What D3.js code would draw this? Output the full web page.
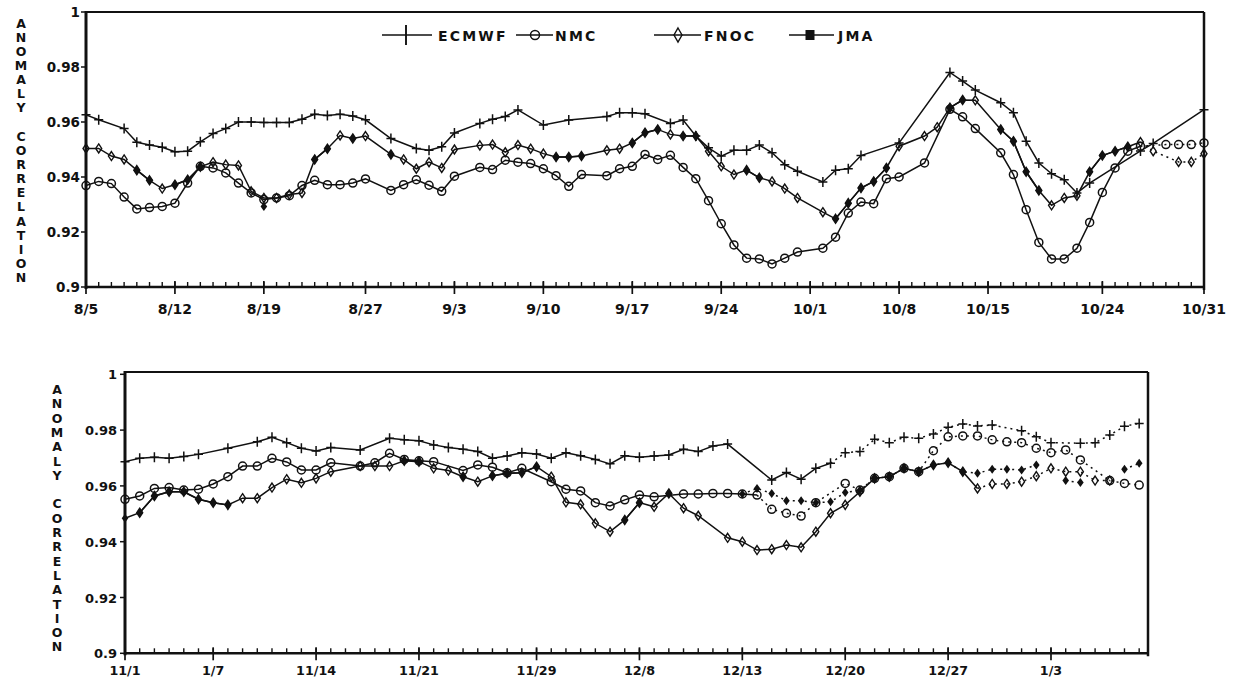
<!doctype html>
<html lang="en">
<head>
  <meta charset="UTF-8">
  <title>Anomaly correlation</title>
  <style>
    body { margin: 0; background: #fff; }
    #app { position: relative; width: 1233px; height: 679px; }
    text { font-family: 'DejaVu Sans', sans-serif; font-weight: bold; fill: #111; }
  </style>
</head>
<body>
<div id="app"></div>
<script src="https://cdn.jsdelivr.net/npm/d3@7/dist/d3.min.js"></script>
<script>
  var width = 1233;
  var height = 679;

  var seriesNames = ['ECMWF', 'NMC', 'FNOC', 'JMA'];
  var axisTitle = 'ANOMALY CORRELATION';
  var yTicks = [0.9, 0.92, 0.94, 0.96, 0.98, 1];
  var yTickLabels = ['0.9', '0.92', '0.94', '0.96', '0.98', '1'];

  // top panel, one value per day from 8/5 (null = no point that day)
  var topTickDays = [0, 7, 14, 22, 29, 36, 43, 50, 57, 64, 71, 80, 88];
  var topTickLabels = ['8/5', '8/12', '8/19', '8/27', '9/3', '9/10', '9/17', '9/24', '10/1', '10/8', '10/15', '10/24', '10/31'];

  var ecmwfTop = [
    .9626, .9608, null, .9576, .9526, .9516, .9508, .9492, .9494, .9528,
    .9558, .9576, .9600, .9600, .9598, .9598, .9598, .9610, .9628, .9624,
    .9628, .9622, .9608, null, .9540, null, .9504, .9497, .9510, .9560,
    null, .9595, .9610, .9620, .9644, null, .9589, null, .9607, null,
    null, .9620, .9634, .9634, .9630, null, .9595, .9607, .9549, .9506,
    .9476, .9497, .9497, .9516, .9488, .9445, .9421, null, .9382, .9425,
    .9430, .9478, null, null, .9524, null, null, null, .9780, .9749,
    .9716, null, .9670, .9634, .9530, .9451, .9412, .9390, .9342, .9378,
    null, null, null, .9495, .9522, null, null, null, .9645];
  var nmcTop = [
    .9369, .9384, .9376, .9327, .9284, .9289, .9293, .9305, .9378, .9439,
    .9433, .9415, .9378, .9342, .9318, .9324, .9332, .9369, .9388, .9372,
    .9372, .9378, .9393, null, .9351, .9372, .9390, .9370, .9348, .9403,
    null, .9435, .9427, .9461, .9454, .9449, .9430, .9405, .9366, .9409,
    null, .9405, .9430, .9439, .9482, .9464, .9479, .9435, .9394, .9314,
    .9230, .9153, .9105, .9102, .9084, .9105, .9127, null, .9141, .9181,
    .9269, .9309, .9303, .9394, .9400, null, .9451, null, .9646, .9619,
    .9576, null, .9488, .9409, .9281, .9162, .9102, .9102, .9141, .9235,
    .9344, .9433, .9494, .9512, null, .9518, .9518, .9518, .9524];
  var fnocTop = [
    .9504, .9504, .9476, .9464, .9425, .9388, .9358, .9372, .9390, .9437,
    .9454, .9445, .9442, .9348, .9324, .9324, .9336, .9342, .9464, .9503,
    .9551, .9540, .9549, null, .9482, .9464, .9430, .9454, .9433, .9500,
    null, .9515, .9518, .9490, .9516, .9503, .9485, .9473, .9473, .9476,
    null, .9497, .9503, .9524, .9561, .9573, .9555, .9549, .9549, .9494,
    .9439, .9409, .9425, .9397, .9384, .9358, .9324, null, .9272, .9248,
    .9305, .9360, .9384, .9433, .9512, null, .9549, .9581, .9652, .9680,
    .9679, null, .9573, .9530, .9419, .9351, .9297, .9324, .9332, .9419,
    .9478, .9494, .9510, .9527, .9494, null, .9455, .9455, .9485];
  // JMA mostly lies on the FNOC line; only the days where its mark shows
  var jmaTop = [
    null, null, null, null, .9425, .9388, null, .9372, .9390, .9437,
    null, null, null, null, .9293, null, null, null, .9464, .9503,
    null, .9540, null, null, .9482, null, null, null, null, null,
    null, null, null, null, null, null, null, .9473, .9473, .9476,
    null, null, null, .9524, .9561, .9573, null, .9549, .9549, null,
    null, null, .9425, .9397, null, null, null, null, null, .9248,
    .9305, .9360, .9384, .9433, null, null, null, null, .9652, .9680,
    null, null, .9573, .9530, .9419, .9351, null, null, null, .9419,
    .9478, .9494, .9510, null, null, null, null, null, null];

  // bottom panel, one value per day from 11/1
  var botTickDays = [0, 6, 13, 20, 28, 35, 42, 49, 56, 63];
  var botTickLabels = ['11/1', '1/7', '11/14', '11/21', '11/29', '12/8', '12/13', '12/20', '12/27', '1/3'];

  var ecmwfBot = [
    .9687, .9699, .9703, .9699, .9705, .9713, null, .9735, null, .9758,
    .9774, .9755, .9735, .9725, .9738, null, .9729, null, .9771, .9765,
    .9762, .9747, .9738, .9731, .9723, .9699, .9707, .9719, .9714, .9699,
    .9719, .9708, .9695, .9679, .9708, .9703, .9707, .9711, .9731, .9723,
    .9743, .9750, null, null, .9621, .9648, .9624, .9663, .9681, .9719,
    .9723, .9767, .9755, .9774, .9771, .9786, .9810, .9822, .9815, .9818,
    null, .9798, .9776, .9755, null, .9753, .9755, .9782, .9814, .9824];
  var nmcBot = [
    .9552, .9564, .9591, .9594, .9585, .9588, .9607, .9633, .9671, .9671,
    .9699, .9686, .9657, .9657, .9683, null, .9671, .9683, .9717, .9695,
    .9690, .9687, null, .9655, .9675, .9667, .9647, .9663, null, .9615,
    .9588, .9582, .9540, .9528, .9550, .9567, .9561, null, .9571, .9571,
    .9573, .9573, .9571, .9567, .9516, .9502, .9492, .9540, null, .9609,
    .9585, .9627, .9633, .9663, .9651, .9726, .9776, .9779, .9779, .9765,
    .9758, .9755, .9735, .9719, .9729, .9693, null, .9619, .9609, .9603];
  var fnocBot = [
    null, .9504, .9564, .9579, .9579, .9552, .9540, .9532, .9556, .9556,
    .9594, .9624, .9611, .9627, .9651, null, .9671, .9671, .9671, .9690,
    .9687, .9663, .9655, .9633, .9615, .9636, .9645, .9647, .9669, .9633,
    .9541, .9534, .9466, .9436, .9478, .9540, .9525, .9573, .9520, .9493,
    null, .9414, .9400, .9370, .9373, .9388, .9380, .9436, .9502, .9532,
    .9579, .9627, .9633, .9663, .9651, .9675, .9683, .9651, .9591, .9607,
    .9607, .9615, .9635, .9663, .9651, .9651, .9619, .9619, null, null];
  var jmaBot = [
    .9484, .9504, .9564, .9579, .9579, .9552, .9540, .9532, null, null,
    null, null, null, null, null, null, null, null, null, .9690,
    .9690, null, null, .9633, null, .9636, .9645, .9647, .9669, null,
    null, null, null, null, .9478, .9540, null, .9573, null, null,
    null, null, .9571, .9591, .9573, .9547, .9547, .9540, .9543, .9576,
    .9585, .9627, .9633, .9663, .9651, .9675, .9683, .9651, .9645, .9660,
    .9660, .9657, .9675, null, .9619, .9612, null, null, .9660, .9681];

  var ink = '#111';

  var panels = [
    {
      left: 86, right: 1204, top: 12, bottom: 287, lastDay: 88,
      tickDays: topTickDays, tickLabels: topTickLabels,
      labelY: 314, xFont: 14, yFont: 13.5, yLabelX: 80, titleX: 21, titleY: 27.5, titleStep: 14.15,
      series: [ecmwfTop, nmcTop, fnocTop, jmaTop],
      dotFrom: [null, 83, 83, null]
    },
    {
      left: 125, right: 1148, top: 374.3, bottom: 653.3, lastDay: 69.6, frameTop: 372,
      tickDays: botTickDays, tickLabels: botTickLabels,
      labelY: 675, xFont: 12.7, yFont: 13, yLabelX: 117, titleX: 57, titleY: 394, titleStep: 14.3,
      series: [ecmwfBot, nmcBot, fnocBot, jmaBot],
      dotFrom: [48, 43, 58, 42]
    }
  ];

  var svg = d3.select('#app')
              .append('svg')
              .attr('width', width)
              .attr('height', height);

  panels.forEach(drawPanel);
  drawLegend();

  function drawPanel(p) {
    var g = svg.append('g');
    var x = d3.scaleLinear().domain([0, p.lastDay]).range([p.left, p.right]);
    var y = d3.scaleLinear().domain([0.9, 1]).range([p.bottom, p.top]);
    var frameTop = p.frameTop || p.top;

    // frame
    g.append('line').attr('x1', p.left).attr('x2', p.right).attr('y1', frameTop).attr('y2', frameTop)
      .attr('stroke', ink).attr('stroke-width', 2);
    g.append('line').attr('x1', p.right).attr('x2', p.right).attr('y1', frameTop).attr('y2', p.bottom + 3)
      .attr('stroke', ink).attr('stroke-width', 2.5);
    g.append('line').attr('x1', p.left).attr('x2', p.right).attr('y1', p.bottom).attr('y2', p.bottom)
      .attr('stroke', ink).attr('stroke-width', 2.5);
    g.append('line').attr('x1', p.left).attr('x2', p.left).attr('y1', frameTop - 1).attr('y2', p.bottom + 2)
      .attr('stroke', ink).attr('stroke-width', 3);

    // x ticks, one per day, longer at labelled days
    var days = d3.range(0, Math.floor(p.lastDay) + 1);
    g.selectAll('line.minor')
      .data(days)
      .enter()
      .append('line')
      .attr('class', 'minor')
      .attr('x1', d => x(d)).attr('x2', d => x(d))
      .attr('y1', p.bottom - 5).attr('y2', p.bottom)
      .attr('stroke', ink).attr('stroke-width', 1.4);
    g.selectAll('line.major')
      .data(p.tickDays)
      .enter()
      .append('line')
      .attr('class', 'major')
      .attr('x1', d => x(d)).attr('x2', d => x(d))
      .attr('y1', p.bottom - 6).attr('y2', p.bottom + 7)
      .attr('stroke', ink).attr('stroke-width', 1.7);
    g.selectAll('text.xlab')
      .data(p.tickDays)
      .enter()
      .append('text')
      .attr('class', 'xlab')
      .attr('x', d => x(d))
      .attr('y', p.labelY)
      .attr('text-anchor', 'middle')
      .style('font-size', p.xFont + 'px')
      .text((d, i) => p.tickLabels[i]);

    // y ticks
    g.selectAll('line.ytick')
      .data(yTicks)
      .enter()
      .append('line')
      .attr('class', 'ytick')
      .attr('x1', p.left - 5).attr('x2', p.left)
      .attr('y1', d => y(d)).attr('y2', d => y(d))
      .attr('stroke', ink).attr('stroke-width', 1.5);
    g.selectAll('text.ylab')
      .data(yTicks)
      .enter()
      .append('text')
      .attr('class', 'ylab')
      .attr('x', p.yLabelX)
      .attr('y', d => y(d) + 5)
      .attr('text-anchor', 'end')
      .style('font-size', p.yFont + 'px')
      .text((d, i) => yTickLabels[i]);

    // stacked axis title
    g.selectAll('text.title')
      .data(axisTitle.split(''))
      .enter()
      .append('text')
      .attr('class', 'title')
      .attr('x', p.titleX)
      .attr('y', (d, i) => p.titleY + i * p.titleStep)
      .attr('text-anchor', 'middle')
      .style('font-size', '12.5px')
      .text(d => d);

    // lines
    p.series.forEach(function(values, si) {
      var gaps = seriesNames[si] === 'JMA';
      var points = values.map((v, i) => ({d: i, v: v}));
      var pts = gaps ? points : points.filter(e => e.v != null);
      var line = d3.line()
                   .defined(e => e.v != null)
                   .x(e => x(e.d))
                   .y(e => y(e.v));
      var cut = p.dotFrom[si];
      var solid = pts, dotted = [];
      if (cut != null) {
        var lastSolid = d3.max(pts.filter(e => e.v != null && e.d <= cut), e => e.d);
        solid = pts.filter(e => e.d <= lastSolid);
        dotted = pts.filter(e => e.d >= lastSolid);
      }
      g.append('path')
        .attr('d', line(solid))
        .attr('fill', 'none')
        .attr('stroke', ink)
        .attr('stroke-width', 1.5);
      if (dotted.length) {
        g.append('path')
          .attr('d', line(dotted))
          .attr('fill', 'none')
          .attr('stroke', ink)
          .attr('stroke-width', 1.5)
          .attr('stroke-dasharray', '2,4');
      }
    });

    // markers
    p.series.forEach(function(values, si) {
      var pts = values.map((v, i) => ({d: i, v: v})).filter(e => e.v != null);
      g.selectAll('g.m' + si)
        .data(pts)
        .enter()
        .append('g')
        .attr('class', 'm' + si)
        .attr('transform', e => 'translate(' + x(e.d) + ',' + y(e.v) + ')')
        .each(function() { drawMarker(d3.select(this), si, false); });
    });
  }

  function drawMarker(sel, si, big) {
    if (si === 0) {
      sel.append('path')
        .attr('d', big ? 'M0,-10V10' : 'M-4.5,0H4.5M0,-5V5')
        .attr('stroke', ink).attr('stroke-width', big ? 1.9 : 1.5);
    } else if (si === 1) {
      sel.append('circle')
        .attr('r', big ? 4.5 : 4)
        .attr('fill', 'none')
        .attr('stroke', ink).attr('stroke-width', 1.5);
    } else if (si === 2) {
      sel.append('path')
        .attr('d', big ? 'M0,-7L4,0L0,7L-4,0Z' : 'M0,-4.5L3,0L0,4.5L-3,0Z')
        .attr('fill', 'none')
        .attr('stroke', ink).attr('stroke-width', 1.4);
    } else if (big) {
      sel.append('rect')
        .attr('x', -4.5).attr('y', -5)
        .attr('width', 9).attr('height', 10)
        .attr('fill', ink);
    } else {
      sel.append('path')
        .attr('d', 'M0,-4.5L3.3,0L0,4.5L-3.3,0Z')
        .attr('fill', ink);
    }
  }

  function drawLegend() {
    var items = [
      {x1: 382, x2: 432, mx: 406, tx: 438},
      {x1: 516, x2: 553, mx: 535, tx: 555},
      {x1: 654, x2: 701, mx: 678, tx: 704},
      {x1: 789, x2: 834, mx: 810, tx: 838}
    ];
    var ly = 35;
    var g = svg.append('g');
    items.forEach(function(it, i) {
      g.append('line')
        .attr('x1', it.x1).attr('x2', it.x2).attr('y1', ly).attr('y2', ly)
        .attr('stroke', ink).attr('stroke-width', 1.7);
      drawMarker(g.append('g').attr('transform', 'translate(' + it.mx + ',' + ly + ')'), i, true);
      g.append('text')
        .attr('x', it.tx)
        .attr('y', ly + 5.5)
        .style('font-size', '14px')
        .style('letter-spacing', '2.2px')
        .text(seriesNames[i]);
    });
  }
</script>
</body>
</html>
